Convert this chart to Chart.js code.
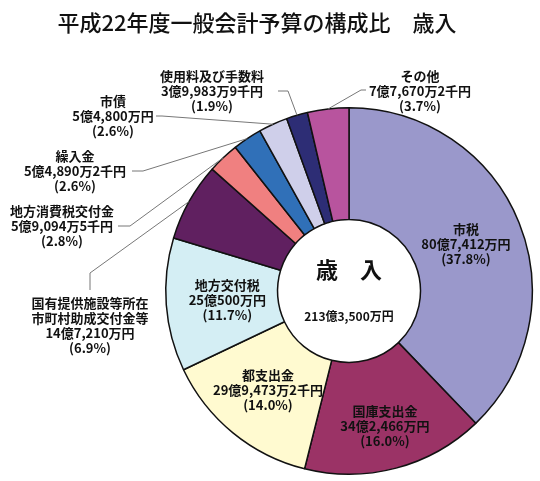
<!DOCTYPE html>
<html lang="ja">
<head>
<meta charset="utf-8">
<title>平成22年度一般会計予算の構成比 歳入</title>
<script src="https://cdn.jsdelivr.net/npm/chart.js@4.4.0/dist/chart.umd.min.js"></script>
<style>
  html, body { margin: 0; padding: 0; background: #fff; }
  #wrap { width: 540px; height: 481px; }
</style>
</head>
<body>
<div id="wrap"><canvas id="budget" width="540" height="481"></canvas></div>
<script>
// 歳入の内訳（単位：万円）
const categories = [
  "市税", "国庫支出金", "都支出金", "地方交付税",
  "国有提供施設等所在\n市町村助成交付金等",
  "地方消費税交付金", "繰入金", "市債", "使用料及び手数料", "その他"
];
const values = [807412, 342466, 299473.2, 250500, 147210, 59094.5, 54890.2, 54800, 39983.9, 77670.2];
const amountLabels = [
  "80億7,412万円", "34億2,466万円", "29億9,473万2千円", "25億500万円",
  "14億7,210万円", "5億9,094万5千円", "5億4,890万2千円", "5億4,800万円",
  "3億9,983万9千円", "7億7,670万2千円"
];
const percentLabels = ["37.8%", "16.0%", "14.0%", "11.7%", "6.9%", "2.8%", "2.6%", "2.6%", "1.9%", "3.7%"];
const colors = ["#9a98cb", "#9b3366", "#fffad0", "#d4eef4", "#602060", "#f08080", "#3070b8", "#cfcfea", "#2d2d75", "#b8549e"];
const totalLabel = "213億3,500万円";

const labelFont = 'bold 13px "Noto Sans CJK JP", sans-serif';
const lineH = 15;

// ラベルの配置（リング内は半径、外側は文字位置と引出線）
const innerRadius = { 0: 126, 1: 140, 2: 128, 3: 122 };
const outerLayout = {
  4: { x: 90, y: 303, lead: [[90, 290], [90, 273]] },
  5: { x: 62, y: 211, lead: [[118, 226], [130, 226]] },
  6: { x: 75, y: 156, lead: [[132, 171], [143, 171]] },
  7: { x: 113, y: 101, lead: [[156, 116], [162, 116]] },
  8: { x: 212, y: 76, lead: [[278, 91], [288, 91]] },
  9: { x: 420, y: 76, lead: [[366, 90], [361, 90]] }
};

function blockLines(i) {
  return categories[i].split("\n").concat([amountLabels[i], "(" + percentLabels[i] + ")"]);
}

const labelPlugin = {
  id: "budgetLabels",
  afterDraw(chart) {
    const ctx = chart.ctx;
    const arcs = chart.getDatasetMeta(0).data;
    ctx.save();
    ctx.textAlign = "center";
    ctx.textBaseline = "middle";
    ctx.fillStyle = "#111";

    // タイトル
    ctx.font = '500 22px "Noto Sans CJK JP", sans-serif';
    ctx.fillText("平成22年度一般会計予算の構成比　歳入", 257, 23);

    arcs.forEach(function (arc, i) {
      const p = arc.getProps(["x", "y", "startAngle", "endAngle", "outerRadius"], true);
      const mid = (p.startAngle + p.endAngle) / 2;
      const lines = blockLines(i);
      ctx.font = labelFont;
      ctx.fillStyle = "#111";
      if (innerRadius[i] !== undefined) {
        const cx = p.x + Math.cos(mid) * innerRadius[i];
        const cy = p.y + Math.sin(mid) * innerRadius[i];
        const top = cy - (lines.length - 1) * lineH / 2;
        lines.forEach(function (t, k) { ctx.fillText(t, cx, top + k * lineH); });
      } else {
        const lay = outerLayout[i];
        lines.forEach(function (t, k) { ctx.fillText(t, lay.x, lay.y + k * lineH); });
        // 引出線
        const ax = p.x + Math.cos(mid) * p.outerRadius;
        const ay = p.y + Math.sin(mid) * p.outerRadius;
        ctx.strokeStyle = "#777";
        ctx.lineWidth = 1;
        ctx.beginPath();
        ctx.moveTo(lay.lead[0][0], lay.lead[0][1]);
        for (let k = 1; k < lay.lead.length; k++) ctx.lineTo(lay.lead[k][0], lay.lead[k][1]);
        ctx.lineTo(ax, ay);
        ctx.stroke();
      }
    });

    // 中央
    const c = arcs[0].getProps(["x", "y"], true);
    ctx.fillStyle = "#111";
    ctx.font = 'bold 22px "Noto Sans CJK JP", sans-serif';
    ctx.fillText("歳　入", c.x, c.y - 21);
    ctx.font = 'bold 12px "Noto Sans CJK JP", sans-serif';
    ctx.fillText(totalLabel, c.x, c.y + 25);
    ctx.restore();
  }
};

const chart = new Chart(document.getElementById("budget").getContext("2d"), {
  type: "doughnut",
  data: {
    labels: categories,
    datasets: [{
      data: values,
      backgroundColor: colors,
      borderColor: "#111",
      borderWidth: 1.5
    }]
  },
  options: {
    responsive: false,
    animation: false,
    cutout: "39%",
    layout: { padding: { left: 165, right: 7, top: 107, bottom: 6 } },
    plugins: {
      legend: { display: false },
      tooltip: { enabled: false },
      title: { display: false }
    }
  },
  plugins: [labelPlugin]
});
</script>
</body>
</html>
